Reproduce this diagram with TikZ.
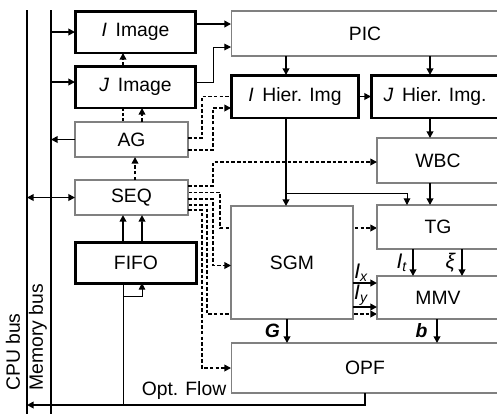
\documentclass[tikz,border=0pt]{standalone}
\usepackage{fontspec}
\setmainfont{Liberation Sans}
\usetikzlibrary{arrows.meta,calc,backgrounds}
\definecolor{boxgray}{RGB}{128,128,128}
\begin{document}
\begin{tikzpicture}[x=0.02cm,y=-0.02cm,
  font=\fontsize{11}{12.5}\selectfont,
  every node/.style={inner sep=0pt, outer sep=0pt},
  thinbox/.style={draw=boxgray, line width=0.6pt, fill=white, rectangle},
  thickbox/.style={draw=black, line width=1.7pt, fill=white, rectangle},
  arr/.style={line width=0.95pt, -{Triangle[length=3.8pt,width=3.8pt]}},
  barr/.style={line width=0.95pt, {Triangle[length=3.8pt,width=3.8pt]}-{Triangle[length=3.8pt,width=3.8pt]}},
  thinln/.style={line width=0.55pt},
  tharr/.style={line width=0.55pt, -{Triangle[length=3.8pt,width=3.8pt]}},
  dsh/.style={line width=0.9pt, dash pattern=on 2pt off 1.2pt},
  darr/.style={dsh, -{Triangle[length=3.8pt,width=3.8pt]}},
  bus/.style={line width=1.1pt},
  lbl/.style={inner sep=0pt}
]
\useasboundingbox (0,0) rectangle (497,414);
\clip (0,0) rectangle (497,414);

% boxes
\node[thickbox, minimum width=2.42cm, minimum height=0.84cm] (IImg) at (135.5,32) {\textit{I}\hspace{0.45em}Image};
\node[thickbox, minimum width=2.42cm, minimum height=0.84cm] (JImg) at (135.5,87) {\textit{J}\hspace{0.45em}Image};
\node[thinbox, minimum width=2.26cm, minimum height=0.70cm] (AG) at (131.5,139.5) {AG};
\node[thinbox, minimum width=2.26cm, minimum height=0.70cm] (SEQ) at (131.5,197.5) {SEQ};
\node[thickbox, minimum width=2.44cm, minimum height=0.82cm] (FIFO) at (136,262.5) {FIFO};
\node[thinbox, minimum width=5.36cm, minimum height=0.90cm] (PIC) at (365,33.5) {PIC};
\node[thickbox, minimum width=2.56cm, minimum height=0.86cm] (IH) at (295,96.5) {\textit{I}\hspace{0.45em}Hier. Img};
\node[thickbox, minimum width=2.56cm, minimum height=0.86cm] (JH) at (435,96.5) {\textit{J}\hspace{0.45em}Hier. Img.};
\node[thinbox, minimum width=2.44cm, minimum height=0.90cm] (WBC) at (438,160.5) {WBC};
\node[thinbox, minimum width=2.44cm, minimum height=2.26cm] (SGM) at (292,262.5) {SGM};
\node[thinbox, minimum width=2.44cm, minimum height=0.88cm] (TG) at (438,227) {TG};
\node[thinbox, minimum width=2.44cm, minimum height=0.86cm] (MMV) at (438,297.5) {MMV};
\node[thinbox, minimum width=5.36cm, minimum height=1.00cm] (OPF) at (365,368) {OPF};

% buses
\coordinate (cpuT) at (27,10); \coordinate (cpuB) at (27,414);
\coordinate (memT) at (51,10); \coordinate (memB) at (51,414);
\draw[bus] (cpuT) -- (cpuB);
\draw[bus] (memT) -- (memB);
\node[rotate=90] (cpulbl) at (13,352) {CPU bus};
\node[rotate=90] (memlbl) at (38,337) {Memory bus};

% bus connections
\coordinate (jy) at ($(JImg.west)+(0,-5)$);
\draw[arr] (IImg.west -| memT) -- (IImg.west);
\draw[arr] (jy -| memT) -- (jy);
\draw[arr] (AG.west) -- (AG.west -| memT);
\draw[barr] (SEQ.west -| cpuT) -- (SEQ.west);

% optical flow output
\coordinate (ofy) at (0,405);
\draw[arr] (OPF.south) -- (OPF.south |- ofy) -- (ofy -| cpuT);
\node (oflbl) at (184,390) {Opt. Flow};
\coordinate (fA) at ($(FIFO.south)+(-13,0)$);
\coordinate (fB) at ($(FIFO.south)+(6,0)$);
\coordinate (fy) at (0,296);
\draw[thinln] (fA |- ofy) -- (fA);
\draw[tharr] (fA |- fy) -| (fB);

% image to PIC
\coordinate (ipy) at ($(IImg.east)+(0,-8)$);
\draw[arr] (ipy) -- (ipy -| PIC.west);
\coordinate (jey) at ($(JImg.east)+(0,-5)$);
\coordinate (pjy) at (0,47);
\draw[tharr] (jey) -- ++(17,0) |- (PIC.west |- pjy);

% AG / SEQ / FIFO vertical links
\begin{pgfonlayer}{background}
\draw[darr] ($(AG.north)+(-8.5,0)$) -- ($(IImg.south)+(-12.5,0)$);
\end{pgfonlayer}
\draw[darr] ($(AG.north)+(10.5,0)$) -- ($(JImg.south)+(6.5,0)$);
\draw[darr] ($(SEQ.north)+(3.5,0)$) -- ($(AG.south)+(3.5,0)$);
\draw[arr] ($(FIFO.north)+(-13,0)$) -- ($(SEQ.south)+(-8.5,0)$);
\draw[arr] ($(FIFO.north)+(6,0)$) -- ($(SEQ.south)+(10.5,0)$);

% AG dashed to I Hier
\draw[dsh] ($(AG.east)+(0,-1.5)$) -- ++(14,0) |- (IH.west);
\draw[darr] ($(AG.east)+(0,10.5)$) -- ++(25,0) |- ($(IH.west)+(0,11.5)$);

% SEQ dashed control lines
\draw[darr] ($(SEQ.east)+(0,-11.5)$) -- ++(25,0) |- ($(WBC.west)+(0,1.5)$);
\begin{pgfonlayer}{background}
\draw[darr] ($(SEQ.east)+(0,-5)$) -- ++(32,0) |- ($(TG.west)+(0,1)$);
\draw[darr] ($(SEQ.east)+(0,7.5)$) -- ++(19,0) |- ($(MMV.west)+(0,16.5)$);
\end{pgfonlayer}
\draw[darr] ($(SEQ.east)+(0,1.5)$) -- ++(25,0) |- ($(SGM.west)+(0,3)$);
\draw[darr] ($(SEQ.east)+(0,12.5)$) -- ++(14,0) |- (OPF.west);

% right column
\coordinate (cx) at (430,0);
\coordinate (c286) at (286,0);
\coordinate (c407) at (407,0);
\coordinate (brY) at (0,193);
\draw[arr] (PIC.south -| cx) -- (JH.north -| cx);
\draw[arr] (JH.south -| cx) -- (WBC.north -| cx);
\draw[arr] (WBC.south -| cx) -- (TG.north -| cx);
\draw[arr] (PIC.south -| c286) -- (IH.north -| c286);
\draw[arr] (IH.south -| c286) -- (SGM.north -| c286);
\draw[tharr] (c286 |- brY) -| (TG.north -| c407);
\draw[arr] (IH.east) -- (JH.west);

% TG -> MMV
\coordinate (c413) at (413,0);
\coordinate (c462) at (462,0);
\draw[arr] (TG.south -| c413) -- (MMV.north -| c413) node[lbl, midway, left, xshift=-3pt] (ltl) {\fontsize{12}{13}\selectfont\textit{I}\textsubscript{\textit{t}}};
\draw[arr] (TG.south -| c462) -- (MMV.north -| c462) node[lbl, midway, left, xshift=-3.5pt] (lxi) {\fontsize{12}{13}\selectfont\textit{ξ}};

% SGM -> MMV
\coordinate (yx) at (0,283);
\coordinate (yy) at (0,307);
\draw[arr] (SGM.east |- yx) -- (MMV.west |- yx) node[lbl, pos=0.35, above, yshift=1pt] (lix) {\fontsize{12}{13}\selectfont\textit{I}\textsubscript{\textit{x}}};
\draw[arr] (SGM.east |- yy) -- (MMV.west |- yy) node[lbl, pos=0.35, above, yshift=1pt] (liy) {\fontsize{12}{13}\selectfont\textit{I}\textsubscript{\textit{y}}};

% to OPF
\coordinate (c287) at (287,0);
\coordinate (c437) at (437,0);
\draw[arr] (SGM.south -| c287) -- (OPF.north -| c287) node[lbl, midway, left, xshift=-4pt] (lG) {\textbf{\textit{G}}};
\draw[arr] (MMV.south -| c437) -- (OPF.north -| c437) node[lbl, midway, left, xshift=-5.5pt] (lb) {\textbf{\textit{b}}};
\end{tikzpicture}
\end{document}
